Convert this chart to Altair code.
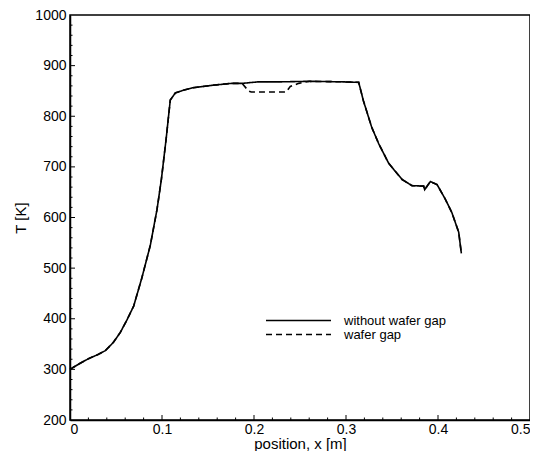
import altair as alt
import pandas as pd

# without wafer gap (solid)
x_solid = [0, 0.01, 0.02, 0.03, 0.0384, 0.047, 0.0547, 0.062, 0.0692, 0.078, 0.0873,
           0.0946, 0.0993, 0.1043, 0.109, 0.1145, 0.1226, 0.1326, 0.154, 0.176, 0.187,
           0.205, 0.23, 0.26, 0.2957, 0.3138, 0.319, 0.328, 0.3355, 0.3464, 0.361,
           0.3717, 0.3844, 0.3855, 0.3917, 0.399, 0.408, 0.415, 0.4225, 0.4254]
t_solid = [300, 311, 321, 329, 337, 353, 373, 398, 425, 480, 545,
           616, 675, 752, 832, 846, 851, 856, 861, 865, 865,
           868, 868, 869, 868, 867, 830, 778, 746, 707, 675,
           663, 662, 655, 671, 665, 636, 610, 571, 529]

# wafer gap (dashed)
x_dash = [0, 0.01, 0.02, 0.03, 0.0384, 0.047, 0.0547, 0.062, 0.0692, 0.078, 0.0873,
          0.0946, 0.0993, 0.1043, 0.109, 0.1145, 0.1226, 0.1326, 0.154, 0.176, 0.187,
          0.194, 0.197, 0.235, 0.2395, 0.2486, 0.26, 0.2957, 0.3138, 0.319, 0.328,
          0.3355, 0.3464, 0.361, 0.3717, 0.3844, 0.3855, 0.3917, 0.399, 0.408, 0.415,
          0.4225, 0.4254]
t_dash = [300, 311, 321, 329, 337, 353, 373, 398, 425, 480, 545,
          616, 675, 752, 832, 846, 851, 856, 861, 865, 865,
          850, 848, 848, 859, 865, 869, 868, 867, 830, 778,
          746, 707, 675, 663, 662, 655, 671, 665, 636, 610,
          571, 529]

series_names = ["without wafer gap", "wafer gap"]

x_min, x_max = 0, 0.5
t_min, t_max = 200, 1000
x_major = [0.1, 0.2, 0.3, 0.4]
x_minor = [0.02, 0.04, 0.06, 0.08, 0.12, 0.14, 0.16, 0.18, 0.22, 0.24, 0.26, 0.28,
           0.32, 0.34, 0.36, 0.38, 0.42, 0.44, 0.46, 0.48]
y_major = [300, 400, 500, 600, 700, 800, 900]
y_minor = [220, 240, 260, 280, 320, 340, 360, 380, 420, 440, 460, 480, 520, 540, 560, 580,
           620, 640, 660, 680, 720, 740, 760, 780, 820, 840, 860, 880, 920, 940, 960, 980]

rows = []
for i, (xv, tv) in enumerate(zip(x_solid, t_solid)):
    rows.append({"x": xv, "T": tv, "series": series_names[0], "order": i})
for i, (xv, tv) in enumerate(zip(x_dash, t_dash)):
    rows.append({"x": xv, "T": tv, "series": series_names[1], "order": i})
df = pd.DataFrame(rows)

tick_rows = []
for v in x_major:
    tick_rows.append({"px": v, "py": t_min, "kind": "x_major"})
for v in x_minor:
    tick_rows.append({"px": v, "py": t_min, "kind": "x_minor"})
for v in y_major:
    tick_rows.append({"px": x_min, "py": v, "kind": "y_major"})
for v in y_minor:
    tick_rows.append({"px": x_min, "py": v, "kind": "y_minor"})
ticks_df = pd.DataFrame(tick_rows)

FONT = "Liberation Sans"
xscale = alt.Scale(domain=[x_min, x_max], nice=False, zero=False)
yscale = alt.Scale(domain=[t_min, t_max], nice=False, zero=False)

lines = alt.Chart(df).mark_line(color="black", strokeWidth=1.6).encode(
    x=alt.X("x:Q", scale=xscale,
            axis=alt.Axis(title="position, x [m]", values=[0, 0.1, 0.2, 0.3, 0.4, 0.5],
                          format=".1~f", ticks=False, grid=False, labelPadding=2)),
    y=alt.Y("T:Q", scale=yscale,
            axis=alt.Axis(title="T [K]", values=[200, 300, 400, 500, 600, 700, 800, 900, 1000],
                          format="d", ticks=False, grid=False, labelPadding=4)),
    strokeDash=alt.StrokeDash(
        "series:N",
        scale=alt.Scale(domain=series_names, range=[[1, 0], [6, 4]]),
        legend=alt.Legend(title=None, orient="none", legendX=195, legendY=300,
                          padding=0, symbolType="stroke", symbolSize=4225,
                          symbolStrokeWidth=1.3, symbolStrokeColor="black",
                          labelFontSize=13, labelFont=FONT, labelColor="black",
                          clipHeight=11, rowPadding=0, symbolOffset=0,
                          labelOffset=12),
    ),
    order="order:Q",
)

tick_layer = alt.Chart(ticks_df).mark_point(
    color="black", filled=False, strokeWidth=1, opacity=1
).encode(
    x=alt.X("px:Q", scale=xscale),
    y=alt.Y("py:Q", scale=yscale),
    shape=alt.Shape("kind:N", legend=None,
                    scale=alt.Scale(domain=["x_major", "x_minor", "y_major", "y_minor"],
                                    range=["M0,0L0,-2", "M0,0L0,-1", "M0,0L2,0", "M0,0L1,0"])),
    size=alt.value(25),
)

chart = alt.layer(lines, tick_layer).properties(
    width=460, height=405,
    padding={"left": 5, "top": 0, "right": 0, "bottom": 0},
).configure_view(
    stroke="black", strokeWidth=1.5
).configure_axis(
    domainColor="black", domainWidth=1.5, labelColor="black", titleColor="black",
    labelFont=FONT, titleFont=FONT, labelFontSize=14, titleFontSize=15,
    titleFontWeight="normal"
).configure_axisX(
    titlePadding=0
).configure_axisY(
    titlePadding=6
)

chart.save("out.html", embed_options={"renderer": "svg", "actions": False})
